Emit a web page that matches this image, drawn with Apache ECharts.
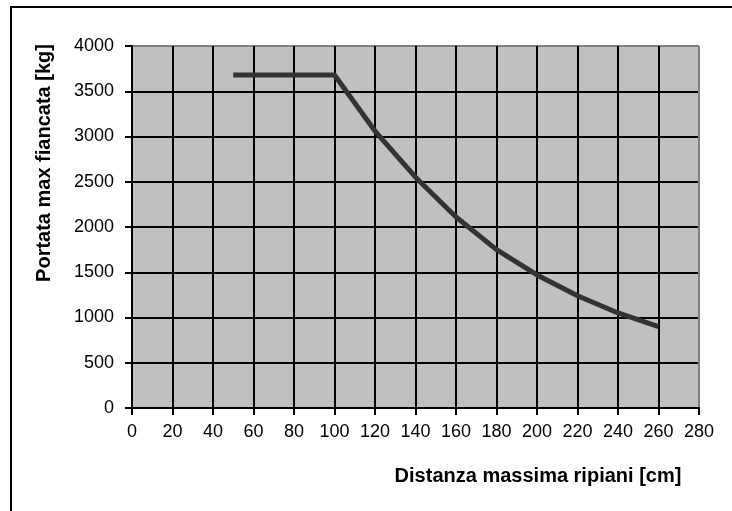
<!DOCTYPE html>
<html>
<head>
<meta charset="utf-8">
<script src="https://cdn.jsdelivr.net/npm/echarts@6/dist/echarts.min.js"></script>
<style>
html, body { margin: 0; padding: 0; background: #fff; }
#main { width: 732px; height: 511px; }
</style>
</head>
<body>
<div id="main"></div>
<script>
// dati
var distanza = [50, 100, 120, 140, 160, 180, 200, 220, 240, 260];
var portata = [3680, 3680, 3060, 2550, 2110, 1750, 1470, 1240, 1050, 900];
var xTicks = [0, 20, 40, 60, 80, 100, 120, 140, 160, 180, 200, 220, 240, 260, 280];
var yTicks = [0, 500, 1000, 1500, 2000, 2500, 3000, 3500, 4000];

var myChart = echarts.init(document.getElementById('main'));

// ultima linea della griglia grigia (bordo area)
var xGridColors = xTicks.map(function (v, i) { return i == xTicks.length - 1 ? '#808080' : '#000'; });
var yGridColors = yTicks.map(function (v, i) { return i == yTicks.length - 1 ? '#808080' : '#000'; });

var font = 'Liberation Sans, Arial, sans-serif';

var option = {
    animation: false,
    backgroundColor: '#fff',
    grid: {
        left: 132, right: 33, top: 46, bottom: 103,
        show: true,
        backgroundColor: '#c0c0c0',
        borderWidth: 0
    },
    graphic: [
        {
            type: 'rect',
            shape: { x: 11, y: 7, width: 740, height: 520 },
            style: { fill: 'none', stroke: '#000', lineWidth: 2 },
            silent: true
        },
        {
            type: 'text',
            x: 538, y: 476,
            style: {
                text: 'Distanza massima ripiani [cm]',
                font: 'bold 20px ' + font,
                fill: '#000',
                align: 'center',
                verticalAlign: 'middle'
            }
        },
        {
            type: 'text',
            x: 44, y: 163,
            rotation: Math.PI / 2,
            style: {
                text: 'Portata max fiancata [kg]',
                font: 'bold 20px ' + font,
                fill: '#000',
                align: 'center',
                verticalAlign: 'middle'
            }
        }
    ],
    xAxis: {
        type: 'value',
        min: xTicks[0],
        max: xTicks[xTicks.length - 1],
        interval: 20,
        axisLine: { show: true, onZero: false, lineStyle: { color: '#000', width: 2 } },
        axisTick: { show: true, length: 7, lineStyle: { color: '#000', width: 2 } },
        axisLabel: { color: '#000', fontSize: 18, fontFamily: font, margin: 15 },
        splitLine: { show: true, lineStyle: { color: xGridColors, width: 2 } }
    },
    yAxis: {
        type: 'value',
        min: yTicks[0],
        max: yTicks[yTicks.length - 1],
        interval: 500,
        axisLine: { show: true, onZero: false, lineStyle: { color: '#000', width: 2 } },
        axisTick: { show: true, length: 7, lineStyle: { color: '#000', width: 2 } },
        axisLabel: {
            color: '#000', fontSize: 18, fontFamily: font, margin: 18,
            formatter: function (v) { return String(v); }
        },
        splitLine: { show: true, lineStyle: { color: yGridColors, width: 2 } }
    },
    series: [{
        type: 'line',
        data: distanza.map(function (d, i) { return [d, portata[i]]; }),
        showSymbol: false,
        lineStyle: { color: '#333333', width: 5, cap: 'butt', join: 'round' }
    }]
};

myChart.setOption(option);
</script>
</body>
</html>
